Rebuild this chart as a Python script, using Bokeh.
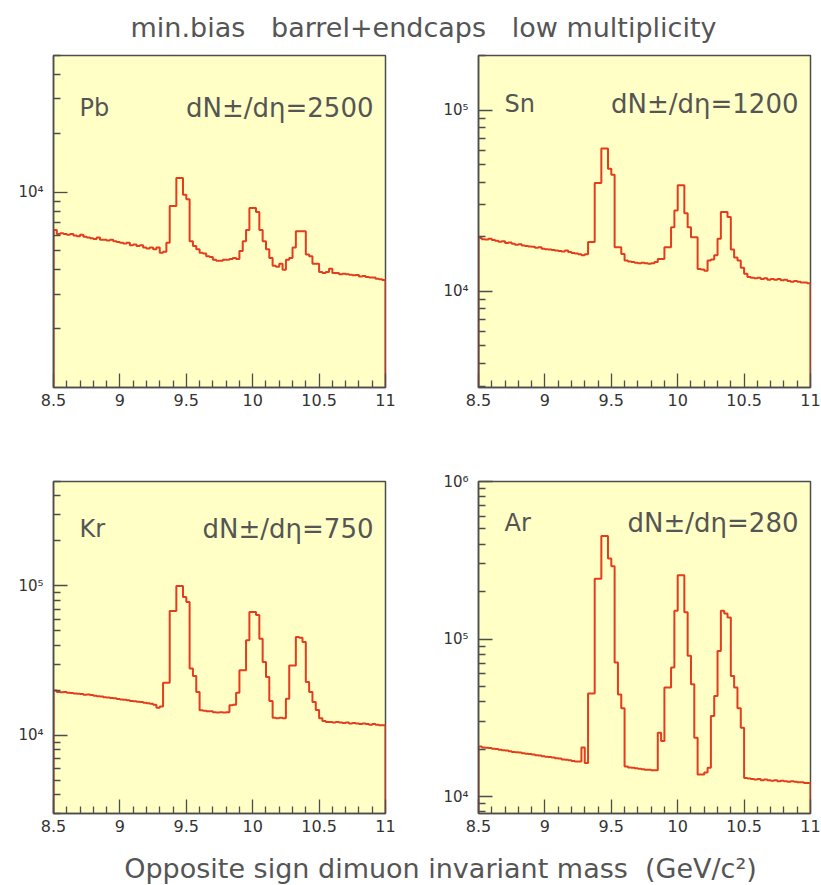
import numpy as np
from bokeh.plotting import figure
from bokeh.models import Range1d, FixedTicker, Label
from bokeh.layouts import column, row
from bokeh.embed import file_html
from bokeh.resources import INLINE

# ---------------- data ----------------
x_lo, x_hi = 8.5, 11.0
bin_width = 0.025
n_bins = 100

x_major = [8.5, 9, 9.5, 10, 10.5, 11]
x_major_labels = ["8.5", "9", "9.5", "10", "10.5", "11"]

panel_names = ["Pb", "Sn", "Kr", "Ar"]
panel_dndeta = [2500, 1200, 750, 280]
y_ranges = [(1000, 50000), (2950, 200000), (3000, 500000), (7800, 1000000)]
y_decades = [[1e4], [1e4, 1e5], [1e4, 1e5], [1e4, 1e5, 1e6]]

counts_pb = [
    6400, 6100, 6150, 6100, 6050, 6100, 6000, 5950, 6050, 5900,
    5850, 5800, 5750, 5850, 5700, 5700, 5650, 5700, 5600, 5550,
    5500, 5450, 5500, 5350, 5400, 5300, 5350, 5200, 5150, 5200,
    5100, 5200, 4900, 4950, 5500, 8500, 8500, 11800, 11800, 9700,
    9200, 5600, 5300, 5100, 4900, 4850, 4700, 4650, 4500, 4450,
    4450, 4500, 4500, 4550, 4600, 4550, 5000, 5600, 6400, 8300,
    8300, 7900, 6400, 5600, 5100, 4600, 4200, 4150, 4300, 4000,
    4500, 4600, 5200, 6300, 6300, 6300, 4800, 4700, 4300, 4300,
    3900, 3850, 3900, 4050, 3850, 3850, 3800, 3820, 3800, 3780,
    3750, 3760, 3700, 3720, 3680, 3650, 3660, 3600, 3580, 3550,
]
counts_sn = [
    19700, 19400, 19300, 19500, 19200, 19000, 18800, 18900, 18500, 18600,
    18300, 18100, 18200, 17900, 17800, 17700, 17600, 17400, 17500, 17200,
    17100, 17000, 16900, 16800, 16700, 16600, 16800, 16500, 16300, 16200,
    16000, 15800, 16000, 18700, 18700, 39600, 39600, 61300, 61300, 47500,
    44000, 17500, 17500, 16100, 14800, 14600, 14500, 14400, 14300, 14400,
    14300, 14200, 14300, 14500, 15100, 15100, 17500, 17500, 22600, 27900,
    38500, 38500, 27000, 22600, 19900, 19900, 13300, 13200, 13000, 14800,
    15000, 15800, 19500, 27400, 27400, 25700, 17000, 15400, 14800, 13500,
    12500, 12000, 11900, 11800, 11900, 11700, 11800, 11600, 11700, 11600,
    11700, 11500, 11600, 11400, 11300, 11400, 11300, 11200, 11200, 11100,
]
counts_kr = [
    20000, 19500, 19400, 19500, 19300, 19200, 19100, 19000, 18900, 18700,
    18800, 18600, 18400, 18300, 18200, 18000, 17900, 17800, 17700, 17500,
    17400, 17300, 17200, 17000, 16900, 16800, 16700, 16500, 16400, 16300,
    16000, 15300, 15600, 22500, 22500, 68000, 68000, 100000, 100000, 84400,
    78000, 28000, 25000, 19500, 14700, 14600, 14500, 14500, 14300, 14200,
    14300, 14200, 14300, 15900, 16000, 19300, 27300, 27300, 43300, 67000,
    67000, 64000, 44300, 31000, 24600, 17000, 13100, 13000, 13100, 13000,
    17600, 29400, 29400, 45600, 45000, 42200, 22800, 19500, 16700, 14800,
    13000, 12500, 12300, 12300, 12200, 12300, 12200, 12100, 12200, 12000,
    12100, 12000, 11900, 12000, 11900, 11800, 11900, 11800, 11700, 11700,
]
counts_ar = [
    20800, 20500, 20400, 20300, 20100, 20000, 19800, 19700, 19600, 19400,
    19200, 19100, 19000, 18800, 18700, 18600, 18500, 18300, 18200, 18000,
    17900, 17800, 17700, 17500, 17400, 17200, 17100, 17000, 16800, 16700,
    16700, 20500, 16300, 45000, 45000, 241000, 241000, 450000, 450000, 324000,
    290000, 71000, 44500, 36300, 15500, 15300, 15200, 15100, 15000, 14900,
    14800, 14800, 14700, 14700, 25400, 22500, 49200, 49200, 65900, 151000,
    254000, 254000, 148000, 78300, 51600, 23600, 13800, 13800, 14200, 15200,
    32400, 43500, 84000, 151000, 145000, 137000, 58300, 49200, 36300, 27300,
    13100, 13000, 12900, 12800, 12900, 12700, 12800, 12700, 12600, 12700,
    12500, 12600, 12500, 12400, 12500, 12400, 12300, 12300, 12200, 12200,
]
panel_counts = [counts_pb, counts_sn, counts_kr, counts_ar]

title_text = "min.bias \u00a0 barrel+endcaps \u00a0 low multiplicity"
xlabel_text = "Opposite sign dimuon invariant mass \u00a0(GeV/c\u00b2)"

# ---------------- style ----------------
FONT = "DejaVu Sans"
BG = "#ffffc6"
LINE = "#e63c1e"
FRAME = "#4d4d4d"
TXT = "#555555"
SUP = {4: "\u2074", 5: "\u2075", 6: "\u2076"}
label_dy = [-52, -48, -47, -41]   # vertical offset of the panel texts (px)

edges = np.round(x_lo + bin_width * np.arange(n_bins + 1), 4)
x_minor = [round(v, 2) for v in np.arange(x_lo, x_hi + 1e-9, 0.1)
           if all(abs(v - m) > 1e-6 for m in x_major)]


def minor_log_ticks(lo, hi):
    out = []
    for e in range(int(np.floor(np.log10(lo))), int(np.ceil(np.log10(hi))) + 1):
        for k in range(2, 10):
            v = k * 10.0 ** e
            if lo <= v <= hi:
                out.append(v)
    return out


def make_panel(i, left_col, top_row):
    lo, hi = y_ranges[i]
    mb = dict(min_border_left=53 if left_col else 68,
              min_border_right=25 if left_col else 11)
    if top_row:
        mb.update(min_border_top=8, min_border_bottom=50)
    else:
        mb.update(min_border_top=42 if left_col else 44,
                  min_border_bottom=30 if left_col else 28)
    p = figure(frame_width=332, frame_height=332, y_axis_type="log",
               x_range=Range1d(x_lo, x_hi), y_range=Range1d(lo, hi),
               output_backend="svg", toolbar_location=None, **mb)
    p.background_fill_color = BG
    p.border_fill_color = "white"
    p.outline_line_color = FRAME
    p.outline_line_width = 1.5
    p.grid.visible = False

    vals = np.asarray(panel_counts[i], dtype=float)
    xs = np.concatenate([[edges[0]], np.repeat(edges, 2)[1:-1], [edges[-1]]])
    ys = np.concatenate([[lo], np.repeat(vals, 2), [lo]])
    p.line(xs, ys, line_color=LINE, line_width=2)

    p.xaxis.ticker = FixedTicker(ticks=x_major, minor_ticks=x_minor)
    p.xaxis.major_label_overrides = {m: l for m, l in zip(x_major, x_major_labels)}
    decs = y_decades[i]
    p.yaxis.ticker = FixedTicker(ticks=decs, minor_ticks=minor_log_ticks(lo, hi))
    p.yaxis.major_label_overrides = {d: "10" + SUP[int(round(np.log10(d)))] for d in decs}

    for ax in (p.xaxis[0], p.yaxis[0]):
        ax.axis_line_color = FRAME
        ax.axis_line_width = 1.5
        ax.major_tick_line_color = FRAME
        ax.minor_tick_line_color = FRAME
        ax.major_tick_line_width = 1.3
        ax.minor_tick_line_width = 1.3
        ax.major_tick_in = 14
        ax.major_tick_out = 0
        ax.minor_tick_in = 7
        ax.minor_tick_out = 0
        ax.major_label_text_font = FONT
        ax.major_label_text_color = "#333333"
    p.xaxis.major_label_text_font_size = "16px"
    p.xaxis.major_label_standoff = 6
    p.yaxis.major_label_text_font_size = "15px"
    p.yaxis.major_label_standoff = 10

    p.add_layout(Label(x=x_lo, y=hi, x_offset=26, y_offset=label_dy[i],
                       text=panel_names[i], text_font=FONT,
                       text_font_size="24px", text_color=TXT,
                       text_baseline="middle", text_align="left"))
    p.add_layout(Label(x=x_hi, y=hi, x_offset=-12, y_offset=label_dy[i],
                       text="dN\u00b1/d\u03b7=%d" % panel_dndeta[i], text_font=FONT,
                       text_font_size="26px", text_color=TXT,
                       text_baseline="middle", text_align="right"))
    return p


def text_strip(h, txt, cx, cy, size):
    p = figure(width=821, height=h, x_range=Range1d(0, 821), y_range=Range1d(0, h),
               x_axis_location=None, y_axis_location=None, min_border=0,
               output_backend="svg", toolbar_location=None)
    p.outline_line_color = None
    p.grid.visible = False
    p.border_fill_color = "white"
    p.background_fill_color = "white"
    p.add_layout(Label(x=cx, y=cy, text=txt, text_font=FONT, text_font_size=size,
                       text_color=TXT, text_align="center", text_baseline="middle"))
    return p


header = text_strip(47, title_text, 423, 20, "27px")
footer = text_strip(44, xlabel_text, 440, 17, "27px")

p1 = make_panel(0, True, True)
p2 = make_panel(1, False, True)
p3 = make_panel(2, True, False)
p4 = make_panel(3, False, False)

layout = column(header, row(p1, p2), row(p3, p4), footer)

open("out.html", "w").write(file_html(layout, INLINE))
